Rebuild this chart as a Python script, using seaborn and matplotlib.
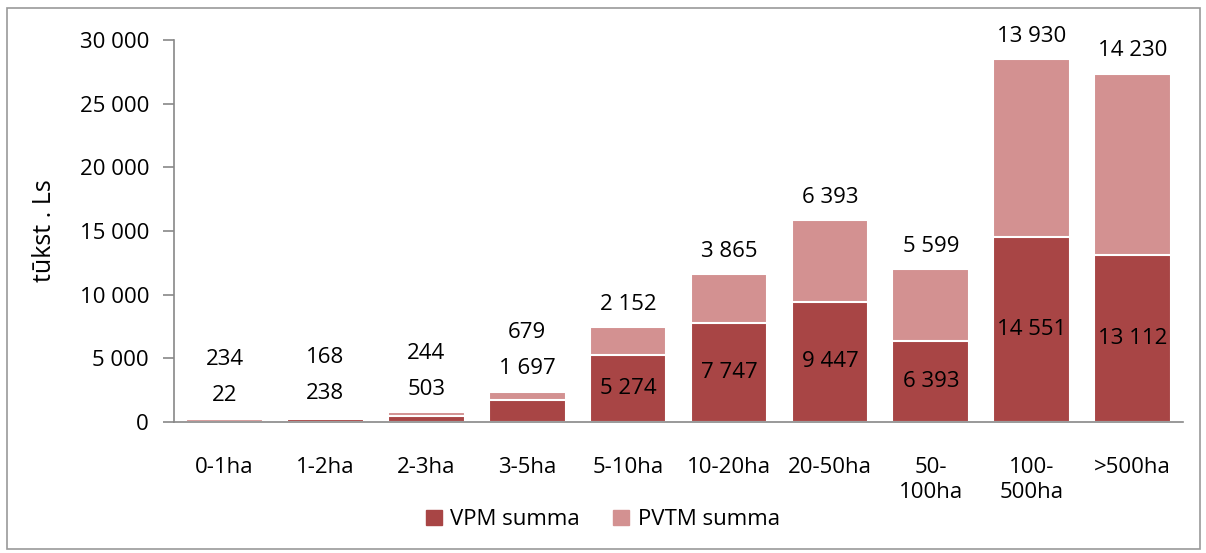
import pandas as pd
import numpy as np
import matplotlib
matplotlib.use("Agg")
import matplotlib.pyplot as plt
import matplotlib.patches as mpatches
import seaborn as sns

categories = ["0-1ha", "1-2ha", "2-3ha", "3-5ha", "5-10ha", "10-20ha",
              "20-50ha", "50-\n100ha", "100-\n500ha", ">500ha"]
vpm = [22, 238, 503, 1697, 5274, 7747, 9447, 6393, 14551, 13112]
pvtm = [234, 168, 244, 679, 2152, 3865, 6393, 5599, 13930, 14230]
y_ticks = [0, 5000, 10000, 15000, 20000, 25000, 30000]

DARK = "#A84545"
LIGHT = "#D39191"
FS = 16

sns.set_theme(style="white")
plt.rcParams['font.family'] = ['Open Sans', 'DejaVu Sans']
plt.rcParams['text.color'] = "black"
plt.rcParams['xtick.color'] = "black"
plt.rcParams['ytick.color'] = "black"
plt.rcParams['axes.labelcolor'] = "black"

df = pd.DataFrame({"cat": categories, "vpm": vpm, "pvtm": pvtm})
df["total"] = df["vpm"] + df["pvtm"]

fig = plt.figure(figsize=(12.06, 5.53), dpi=100)
ax = fig.add_axes([0.1443, 0.2369, 0.8367, 0.6908])

# stacked look: total in light colour, VPM drawn over it
sns.barplot(data=df, x="cat", y="total", color=LIGHT, width=0.76,
            edgecolor="white", linewidth=1.5, saturation=1, ax=ax)
sns.barplot(data=df, x="cat", y="vpm", color=DARK, width=0.76,
            edgecolor="white", linewidth=1.5, saturation=1, ax=ax)

ax.set_ylim(0, 30000)
ax.set_xlim(-0.5, len(categories) - 0.5)
ax.set_yticks(y_ticks)
ax.set_yticklabels([f"{v:,}".replace(",", " ") for v in y_ticks], fontsize=FS)
ax.set_xticks(range(len(categories)))
ax.set_xticklabels(categories, fontsize=FS, linespacing=1.25)
ax.set_xlabel("")
ax.set_ylabel("tūkst . Ls", fontsize=18, labelpad=16)

# excel style axes: ticks between categories
ax.set_xticks(np.arange(-0.5, len(categories), 1.0), minor=True)
ax.tick_params(axis="x", which="major", length=0, pad=25)
ax.tick_params(axis="x", which="minor", length=8, color="#888888", width=1.2)
ax.tick_params(axis="y", length=8, color="#888888", width=1.2, left=True, pad=10)
for side in ["top", "right"]:
    ax.spines[side].set_visible(False)
for side in ["left", "bottom"]:
    ax.spines[side].set_color("#888888")
    ax.spines[side].set_linewidth(1.2)

# data labels
for i, row in df.iterrows():
    v_lab = f"{row['vpm']:,}".replace(",", " ")
    p_lab = f"{row['pvtm']:,}".replace(",", " ")
    if row["vpm"] >= 4000:
        ax.text(i, row["vpm"] / 2, v_lab, ha="center", va="center", fontsize=FS)
        ax.annotate(p_lab, (i, row["total"]), xytext=(0, 9), textcoords="offset points",
                    ha="center", va="bottom", fontsize=FS)
    else:
        ax.annotate(v_lab, (i, row["total"]), xytext=(0, 9), textcoords="offset points",
                    ha="center", va="bottom", fontsize=FS)
        ax.annotate(p_lab, (i, row["total"]), xytext=(0, 35), textcoords="offset points",
                    ha="center", va="bottom", fontsize=FS)

handles = [mpatches.Patch(color=DARK, label="VPM summa"),
           mpatches.Patch(color=LIGHT, label="PVTM summa")]
fig.legend(handles=handles, loc="lower center", bbox_to_anchor=(0.5, 0.005), ncol=2,
           frameon=False, fontsize=FS, handlelength=0.7, handleheight=0.7,
           handletextpad=0.4, columnspacing=1.5)

# chart border
fig.patches.append(mpatches.Rectangle((0.006, 0.008), 0.989, 0.978, transform=fig.transFigure,
                                      fill=False, edgecolor="#999999", linewidth=1.2))

fig.savefig("out.png", dpi=100)
